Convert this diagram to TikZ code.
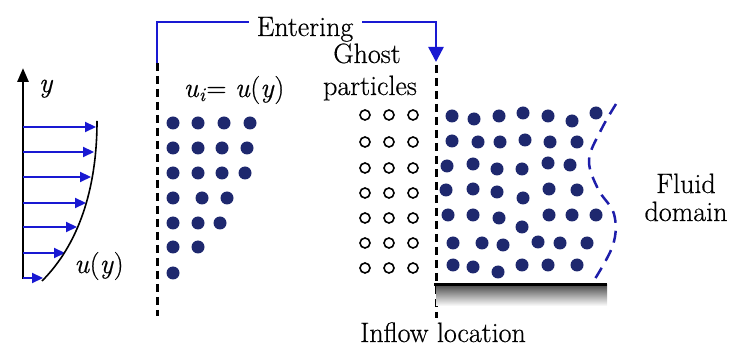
\documentclass[tikz,border=0pt]{standalone}
\usepackage{fontspec}
\setmainfont{Latin Modern Roman}[FakeBold=0.5]
\usetikzlibrary{arrows.meta}
\definecolor{navy}{RGB}{30,40,110}
\definecolor{blueA}{RGB}{25,25,210}
\definecolor{blueD}{RGB}{30,30,170}
\begin{document}
\begin{tikzpicture}[x=1pt,y=-1pt,
  every node/.style={font=\rmfamily\fontsize{28}{30}\selectfont, inner sep=0pt},
  lbl/.style={anchor=base},
  fdot/.style={circle, fill=navy, minimum size=13pt},
  gdot/.style={circle, draw=black, line width=1.6pt, minimum size=10pt},
  vel/.style={-{Triangle[length=11pt,width=10pt]}, draw=blueA, line width=2.2pt},
  inletline/.style={dash pattern=on 8pt off 5pt, line width=3pt},
  bracket/.style={draw=blueA, line width=2.5pt}
]
\useasboundingbox (0,0) rectangle (733,352);
% left velocity profile
\coordinate (o) at (23,279);
\coordinate (ytop) at (23,68);
\draw[-{Triangle[length=14pt,width=11pt]}, line width=2.8pt] (o) -- (ytop);
\node[lbl] (ylab) at (46,92) {\textit{y}};
\foreach \yy/\xx [count=\i] in {127/96,152/94,177/91,203/86,227/77,253/65,278/43}{
  \coordinate (s\i) at (23,\yy);
  \coordinate (e\i) at (\xx,\yy);
  \draw[vel] (s\i) -- (e\i);
}
\coordinate (c0) at (42,281);
\coordinate (c1) at (97,121);
\draw[line width=1.6pt] (c0) .. controls (78,245) and (97,190) .. (c1);
\node[lbl] (uy) at (99,273) {\textit{u}(\textit{y})};
% inlet dashed line and bracket
\coordinate (l0) at (157,63);
\coordinate (l1) at (157,316);
\draw[inletline] (l0) -- (l1);
\node[lbl] (enttext) at (305,36) {Entering};
\coordinate (r0) at (436,65);
\coordinate (r1) at (436,318);
\coordinate (rtip) at (436,62);
\draw[bracket] (l0) -- (157,22) -- (249,22);
\draw[bracket, -{Triangle[length=15pt,width=15pt]}] (362,22) -- (436,22) -- (rtip);
\draw[inletline] (r0) -- (r1);
\node[lbl] (ui) at (234,97) {\textit{u}\textsubscript{\textit{i}}= \textit{u}(\textit{y})};
\node[lbl] (ghost) at (367,63) {Ghost};
\node[lbl] (part) at (370,95) {particles};
% left dots
\foreach \x/\y [count=\i] in {173/123,198/123,224/123,250/123,
  173/148,198/148,222/148,247/148,
  173/173,198/173,222/173,245/173,
  173/198,202/198,227/198,
  173/223,198/223,220/223,
  173/247,198/247,
  173/273}{
  \node[fdot] (L\i) at (\x,\y) {};
}
% ghost particles
\foreach \x in {365,389,413}{
  \foreach \y in {115,142,168,193,218,243,268}{
    \node[gdot] (g\x-\y) at (\x,\y) {};
  }
}
% fluid particles
\foreach \x/\y [count=\i] in {452/116,474/119,499/116,523/113,548/116,572/121,596/113,
  452/141,478/142,500/142,525/140,550/142,577/142,
  447/166,473/164,497/169,522/169,548/163,570/165,
  446/190,473/189,497/192,523/198,549/189,577/190,
  448/215,473/215,499/218,522/227,549/215,572/215,596/215,
  453/243,482/243,503/245,538/242,560/243,587/243,
  453/265,473/267,498/272,522/265,548/265,577/265}{
  \node[fdot] (F\i) at (\x,\y) {};
}
% free surface dashed curve
\draw[blueD, line width=2.5pt, dash pattern=on 12pt off 8pt]
  plot[smooth, tension=0.6] coordinates {(616,104) (601,130) (589,160) (598,189) (614,214) (613,245) (593,282)};
% wall
\shade[top color=black!70, bottom color=white] (436,285) rectangle (607,306);
\coordinate (w0) at (434,285);
\coordinate (w1) at (607,285);
\draw[line width=3pt] (w0) -- (w1);
% labels
\node[lbl] (fluid) at (686,193) {Fluid};
\node[lbl] (domain) at (686,221) {domain};
\node[lbl] (inflow) at (443,342) {Inflow location};
\end{tikzpicture}
\end{document}
